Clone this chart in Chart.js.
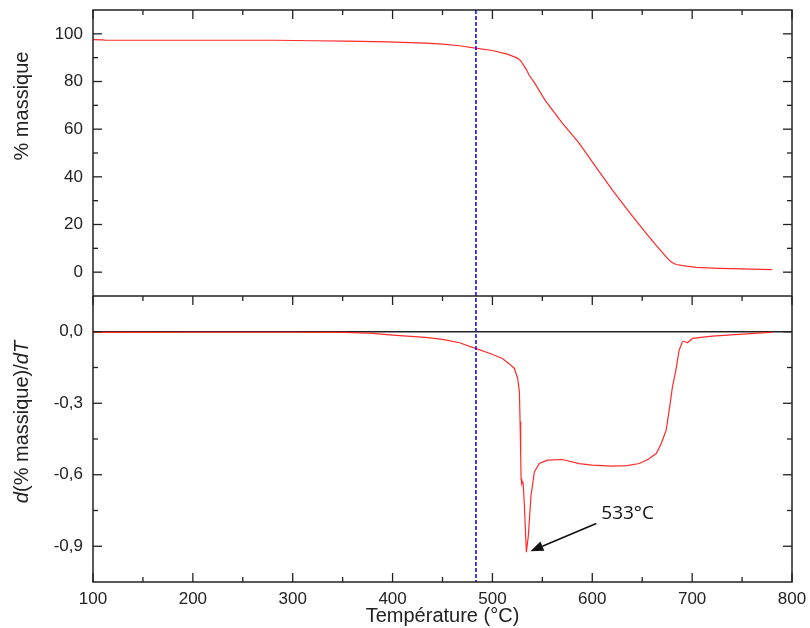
<!DOCTYPE html>
<html><head><meta charset="utf-8">
<script src="https://cdn.jsdelivr.net/npm/chart.js@4/dist/chart.umd.min.js"></script>
<style>html,body{margin:0;padding:0;background:#fff}#wrap{width:810px;height:628px}</style>
</head><body><div id="wrap"><canvas id="c" width="810" height="628"></canvas></div>
<script>
// ---- data ----
const massTemp = [100,110,112,200,282,320,355,395,433,450,467,483,500,515,525,528,531,534,537,542,553,570,587,603,620,637,654,664,674,679,684,694,704,727,750,780];
const massPct  = [97.6,97.5,97.3,97.3,97.3,97.1,96.9,96.6,96.1,95.7,95.0,94.0,93.0,91.5,89.8,88.8,87.0,85.0,82.5,79.5,72.0,62.5,54.0,44.5,34.5,25.2,16.3,11.2,6.4,4.3,3.2,2.5,2.0,1.6,1.4,1.1];
const derivTemp = [100,130,200,300,350,377,400,433,450,467,483,497,510,517,522,525.3,527,527.7,528.3,528.7,529.3,530,530.7,532,533,534,536,537.3,538.7,542,547,555,570,587,600,620,635,647,656,664,669,674,677,680.3,683.7,687,690.3,692,695.3,700.3,720,747,774,780];
const derivVal  = [-0.003,-0.003,-0.002,-0.002,-0.003,-0.006,-0.014,-0.024,-0.032,-0.046,-0.07,-0.09,-0.112,-0.135,-0.154,-0.196,-0.252,-0.378,-0.52,-0.616,-0.637,-0.628,-0.632,-0.728,-0.83,-0.925,-0.854,-0.77,-0.686,-0.588,-0.553,-0.539,-0.536,-0.553,-0.56,-0.564,-0.562,-0.553,-0.535,-0.511,-0.47,-0.413,-0.33,-0.231,-0.161,-0.077,-0.042,-0.04,-0.046,-0.028,-0.018,-0.011,-0.004,-0.002];
const xTicks = [100,200,300,400,500,600,700,800];
const xMinorTicks = [150,250,350,450,550,650,750];
const massTicks = [0,20,40,60,80,100];
const massMinorTicks = [10,30,50,70,90];
const derivTicks = [-0.9,-0.6,-0.3,0];
const derivMinorTicks = [-0.75,-0.45,-0.15];
const markerTemp = 483.5;
const peakLabel = '533°C';
const peakPoint = {x:538, y:-0.921};
const arrowStart = {x:604, y:-0.805};
const labelPos = {x:609, y:-0.762};
const xTitle = 'Température (°C)';
const massTitle = '% massique';

const TXT = '#222';
const FONT = "'Liberation Sans', Arial, sans-serif";

const panelPlugin = {
  id: 'panels',
  beforeDatasetsDraw(chart) {
    const {ctx, scales:{x, yDeriv}} = chart;
    const y0 = yDeriv.getPixelForValue(0);
    ctx.save();
    ctx.strokeStyle = '#222'; ctx.lineWidth = 1.5;
    ctx.beginPath(); ctx.moveTo(x.left, y0); ctx.lineTo(x.right, y0); ctx.stroke();
    ctx.restore();
  },
  afterDatasetsDraw(chart) {
    const {ctx, scales:{x, yMass, yDeriv}} = chart;
    ctx.save();
    // blue dashed marker
    const xm = x.getPixelForValue(markerTemp);
    ctx.strokeStyle = '#1010ff'; ctx.lineWidth = 1.6; ctx.setLineDash([4,2]);
    ctx.beginPath(); ctx.moveTo(xm, yMass.top); ctx.lineTo(xm, yDeriv.bottom); ctx.stroke();
    ctx.setLineDash([]);
    // frame
    ctx.strokeStyle = '#222'; ctx.lineWidth = 1.5;
    ctx.strokeRect(x.left, yMass.top, x.right - x.left, yDeriv.bottom - yMass.top);
    ctx.beginPath(); ctx.moveTo(x.left, yMass.bottom); ctx.lineTo(x.right, yMass.bottom); ctx.stroke();
    // ticks
    const MAJ = 9, MIN = 5;
    ctx.lineWidth = 1.3;
    const line = (a,b,c,d)=>{ctx.beginPath();ctx.moveTo(a,b);ctx.lineTo(c,d);ctx.stroke();};
    const xt = (vals, len) => vals.forEach(v => {
      const px = x.getPixelForValue(v);
      line(px, yMass.top, px, yMass.top + len);
      line(px, yDeriv.top, px, yDeriv.top + len);
      line(px, yDeriv.bottom, px, yDeriv.bottom - len);
    });
    xt(xTicks, MAJ); xt(xMinorTicks, MIN);
    const yt = (s, vals, len) => vals.forEach(v => {
      const py = s.getPixelForValue(v);
      line(x.left, py, x.left + len, py);
      line(x.right, py, x.right - len, py);
    });
    yt(yMass, massTicks, MAJ); yt(yMass, massMinorTicks, MIN);
    yt(yDeriv, derivTicks, MAJ); yt(yDeriv, derivMinorTicks, MIN);
    // annotation arrow
    const tx = x.getPixelForValue(peakPoint.x), ty = yDeriv.getPixelForValue(peakPoint.y);
    const sx = x.getPixelForValue(arrowStart.x), sy = yDeriv.getPixelForValue(arrowStart.y);
    const ang = Math.atan2(ty - sy, tx - sx);
    const hl = 13, hw = 5;
    const bx = tx - hl*Math.cos(ang), by = ty - hl*Math.sin(ang);
    ctx.strokeStyle = '#111'; ctx.fillStyle = '#111'; ctx.lineWidth = 1.6;
    line(sx, sy, bx, by);
    ctx.beginPath(); ctx.moveTo(tx, ty);
    ctx.lineTo(bx + hw*Math.sin(ang), by - hw*Math.cos(ang));
    ctx.lineTo(bx - hw*Math.sin(ang), by + hw*Math.cos(ang));
    ctx.closePath(); ctx.fill();
    ctx.font = "19px 'Open Sans', 'Noto Sans', sans-serif";
    ctx.textAlign = 'left'; ctx.textBaseline = 'middle'; ctx.fillStyle = '#111';
    ctx.fillText(peakLabel, x.getPixelForValue(labelPos.x), yDeriv.getPixelForValue(labelPos.y));
    // y titles
    ctx.fillStyle = TXT; ctx.textBaseline = 'middle';
    ctx.save(); ctx.translate(22, yMass.top + 96); ctx.rotate(-Math.PI/2);
    ctx.font = '20px ' + FONT; ctx.textAlign = 'center'; ctx.fillText(massTitle, 0, 0); ctx.restore();
    const segs = [['d',true],['(% massique)/',false],['d',true],['T',true]];
    ctx.save(); ctx.translate(22, yDeriv.top + 126); ctx.rotate(-Math.PI/2);
    let total = 0;
    segs.forEach(([t,it]) => { ctx.font = (it?'italic ':'') + '20px ' + FONT; total += ctx.measureText(t).width; });
    let cx = -total/2; ctx.textAlign = 'left';
    segs.forEach(([t,it]) => { ctx.font = (it?'italic ':'') + '20px ' + FONT; ctx.fillText(t, cx, 0); cx += ctx.measureText(t).width; });
    ctx.restore();
    ctx.restore();
  }
};

const fmt = v => v.toFixed(1).replace('.', ',').replace(/^-0,0$/, '0,0');
const fitY = s => { s.width = 93; s.paddingTop = 0; s.paddingBottom = 0; s.paddingLeft = 0; s.paddingRight = 0; };
const fitX = s => { s.height = 46; s.paddingLeft = 0; s.paddingRight = 0; s.paddingTop = 0; s.paddingBottom = 0; };

new Chart(document.getElementById('c'), {
  type: 'line',
  data: { datasets: [
    { data: massTemp.map((t,i)=>({x:t, y:massPct[i]})), yAxisID:'yMass', borderColor:'#ff2a2a', borderWidth:1.2, pointRadius:0, tension:0, fill:false },
    { data: derivTemp.map((t,i)=>({x:t, y:derivVal[i]})), yAxisID:'yDeriv', borderColor:'#ff2a2a', borderWidth:1.2, pointRadius:0, tension:0, fill:false }
  ]},
  options: {
    responsive:false, animation:false, devicePixelRatio:1,
    layout:{ padding:{ top:10, right:18, left:0, bottom:0 } },
    plugins:{ legend:{display:false}, tooltip:{enabled:false} },
    scales: {
      x: { type:'linear', min:100, max:800,
        afterBuildTicks: s => { s.ticks = xTicks.map(v=>({value:v})); },
        afterFit: fitX,
        grid:{display:false, drawTicks:false}, border:{display:false},
        ticks:{ padding:7, color:TXT, font:{family:FONT, size:17}, maxRotation:0 },
        title:{ display:true, text:xTitle, color:TXT, font:{family:FONT, size:20}, padding:{top:0,bottom:0} } },
      yDeriv: { type:'linear', position:'left', stack:'panels', stackWeight:1, min:-1.05, max:0.15,
        afterBuildTicks: s => { s.ticks = derivTicks.map(v=>({value:v})); },
        afterFit: fitY,
        grid:{display:false, drawTicks:false}, border:{display:false},
        ticks:{ padding:10, color:TXT, font:{family:FONT, size:17}, callback: v => fmt(v) } },
      yMass: { type:'linear', position:'left', stack:'panels', stackWeight:1, min:-10, max:110,
        afterBuildTicks: s => { s.ticks = massTicks.map(v=>({value:v})); },
        afterFit: fitY,
        grid:{display:false, drawTicks:false}, border:{display:false},
        ticks:{ padding:10, color:TXT, font:{family:FONT, size:17} } }
    }
  },
  plugins:[panelPlugin]
});
</script>
</body></html>
